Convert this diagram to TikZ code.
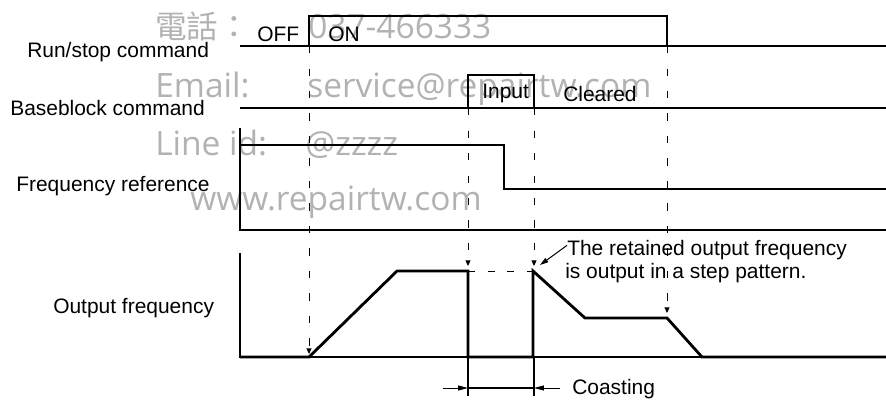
\documentclass[tikz,border=0pt]{standalone}
\usepackage{fontspec}
\setmainfont{Liberation Sans}
\newfontfamily\wmfont{Open Sans}
\newfontfamily\cjkfont{Noto Sans CJK TC}
\usepackage{xcolor}
\usepackage{tikz}
\usetikzlibrary{arrows.meta, positioning}

\begin{document}
\begin{tikzpicture}[
    x=0.025cm, y=-0.025cm,
    lbl/.style={anchor=base west, inner sep=0pt, font=\fontsize{14.9pt}{17pt}\selectfont},
    wmark/.style={anchor=base west, inner sep=0pt, text=black!30, font=\wmfont\fontsize{23.8pt}{28pt}\selectfont},
    wmcjk/.style={wmark, font=\cjkfont\fontsize{22.5pt}{28pt}\selectfont},
    sig/.style={line width=2pt, line join=miter},
    axis/.style={line width=0.8pt},
    guide/.style={line width=0.7pt, dash pattern=on 5pt off 11pt, -{Triangle[length=4pt,width=3.5pt]}},
    level/.style={line width=0.7pt, dash pattern=on 5pt off 9pt},
    dim/.style={line width=0.7pt, -{Triangle[length=7pt,width=3.5pt]}},
    pointer/.style={line width=0.7pt, -{Triangle[length=6pt,width=3.5pt]}}
  ]
    \useasboundingbox (0,0) rectangle (886,401);

    % Watermark
    \node[wmcjk] (wm1) at (155,38) {電話：};
    \node[wmark] (wm2) at (308,38) {037-466333};
    \node[wmark] (wm3) at (155,97) {Email:};
    \node[wmark] (wm4) at (307,97) {service@repairtw.com};
    \node[wmark] (wm5) at (155,155) {Line id:};
    \node[wmark] (wm6) at (305,155) {@zzzz};
    \node[wmark] (wm7) at (190,210) {www.repairtw.com};

    % Signal names
    \node[lbl] (run) at (27,57) {Run/stop command};
    \node[lbl] (bb) at (10,115) {Baseblock command};
    \node[lbl] (fref) at (16,191) {Frequency reference};
    \node[lbl] (fout) at (53,313) {Output frequency};

    % Run/stop command
    \draw[axis] (309,46) -- (667,46);
    \draw[sig] (240,46) -- (309,46) -- (309,16) -- (667,16) -- (667,46) -- (886,46);
    \node[lbl] (off) at (257,42) {OFF};
    \node[lbl] (on) at (328,42) {ON};

    % Baseblock command
    \draw[axis] (468,108) -- (534,108);
    \draw[sig] (240,108) -- (468,108) -- (468,75) -- (534,75) -- (534,108) -- (886,108);
    \node[lbl] (inp) at (482,98) {Input};
    \node[lbl] (clr) at (563,101) {Cleared};

    % Frequency reference
    \draw[axis] (240,128) -- (240,230) -- (886,230);
    \draw[sig] (240,145) -- (504,145) -- (504,189) -- (886,189);

    % Output frequency
    \draw[axis] (240,253) -- (240,357) -- (886,357);
    \draw[sig] (240,357) -- (309,357) -- (397,271) -- (468,271) -- (468,357)
      -- (533,357) -- (533,271) -- (585,318) -- (667,318) -- (702,357) -- (886,357);

    % Timing guides
    \coordinate (g1a) at (309,46);  \coordinate (g1b) at (309,354);
    \coordinate (g2a) at (468,108); \coordinate (g2b) at (468,266);
    \coordinate (g3a) at (534,108); \coordinate (g3b) at (534,266);
    \coordinate (g4a) at (667,46);  \coordinate (g4b) at (667,313);
    \draw[guide] (g1a) -- (g1b);
    \draw[guide] (g2a) -- (g2b);
    \draw[guide] (g3a) -- (g3b);
    \draw[guide] (g4a) -- (g4b);
    \coordinate (hold1) at (468,271); \coordinate (hold2) at (533,271);
    \draw[level] (hold1) -- (hold2);

    % Note
    \node[lbl] (ann1) at (567,255) {The retained output frequency};
    \node[lbl] (ann2) at (565,278) {is output in a step pattern.};
    \coordinate (steptip) at (540,265);
    \draw[pointer] ([yshift=3pt]ann1.west) -- (steptip);

    % Coasting
    \coordinate (c1t) at (468,357); \coordinate (c1b) at (468,396);
    \coordinate (c2t) at (534,357); \coordinate (c2b) at (534,396);
    \draw[axis] (c1t) -- (c1b);
    \draw[axis] (c2t) -- (c2b);
    \coordinate (cl) at (468,388); \coordinate (cr) at (534,388);
    \coordinate (clo) at (443,388); \coordinate (cro) at (560,388);
    \draw[dim] (clo) -- (cl);
    \draw[dim] (cro) -- (cr);
    \draw[axis] (cl) -- (cr);
    \node[lbl] (coast) at (572,394) {Coasting};

  \end{tikzpicture}
\end{document}
